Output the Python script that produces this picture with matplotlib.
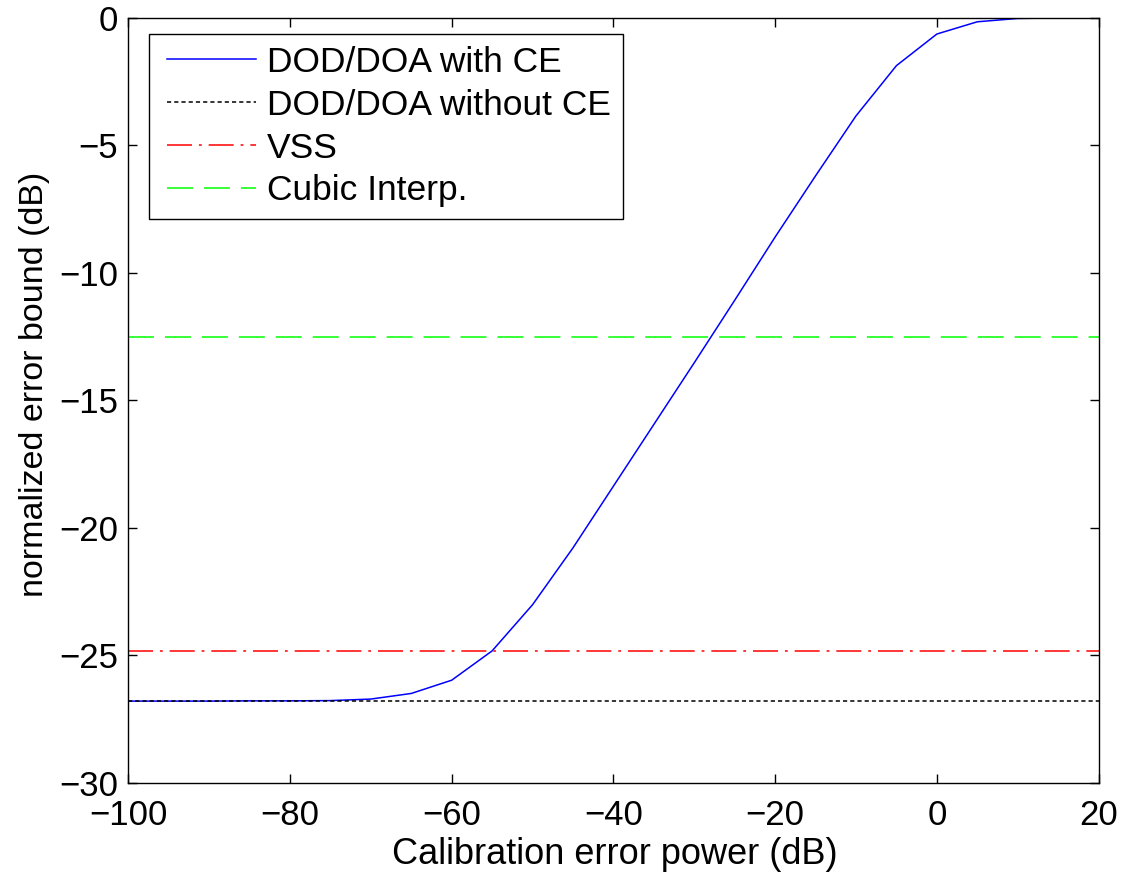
import matplotlib
matplotlib.use("Agg")
import matplotlib.pyplot as plt
from matplotlib.legend_handler import HandlerLine2D

# Calibration error power (dB) and the resulting normalized error bound (dB)
cal_error_db = [-100, -95, -90, -85, -80, -75, -70, -65, -60, -55, -50, -45, -40,
                -35, -30, -25, -20, -15, -10, -5, 0, 5, 10, 15, 20]
bound_with_ce = [-26.80, -26.80, -26.80, -26.79, -26.79, -26.78, -26.72, -26.50,
                 -25.98, -24.83, -23.02, -20.79, -18.37, -15.95, -13.53, -11.08,
                 -8.60, -6.20, -3.85, -1.88, -0.64, -0.16, -0.03, -0.01, 0.0]
bound_without_ce = -26.80
bound_vss = -24.83
bound_cubic = -12.52

series_labels = ["DOD/DOA with CE", "DOD/DOA without CE", "VSS", "Cubic Interp."]
x_ticks = [-100, -80, -60, -40, -20, 0, 20]
y_ticks = [-30, -25, -20, -15, -10, -5, 0]

plt.rcParams["font.family"] = ["Liberation Sans", "DejaVu Sans"]
plt.rcParams["lines.scale_dashes"] = False

fig = plt.figure(figsize=(11.24, 8.76), dpi=100)
ax = fig.add_axes([0.1141, 0.1065, 0.8633, 0.8733])

x_lim = (-100, 20)
lines = [
    ax.plot(cal_error_db, bound_with_ce, color="#0000ff", lw=1.1,
            label=series_labels[0])[0],
    ax.plot(x_lim, [bound_without_ce] * 2, color="black", lw=1.1,
            dashes=(3, 2.2), label=series_labels[1])[0],
    ax.plot(x_lim, [bound_vss] * 2, color="#ff0000", lw=1.1,
            dashes=(18, 5, 2, 5), label=series_labels[2])[0],
    ax.plot(x_lim, [bound_cubic] * 2, color="#00ff00", lw=1.1,
            dashes=(18.7, 7.9), label=series_labels[3])[0],
]

ax.set_xlim(*x_lim)
ax.set_ylim(-30, 0)
ax.set_xticks(x_ticks)
ax.set_yticks(y_ticks)
ax.tick_params(direction="in", length=6.7, width=1.0, labelsize=25,
               top=True, right=True)
ax.tick_params(axis="x", pad=11.4)
ax.tick_params(axis="y", pad=7.3)
for s in ax.spines.values():
    s.set_linewidth(1.0)

ax.set_xlabel("Calibration error power (dB)", fontsize=26)
ax.set_ylabel("normalized error bound (dB)", fontsize=24.5)
ax.xaxis.set_label_coords(0.5016, -0.0710)
ax.yaxis.set_label_coords(-0.0807, 0.521)

leg = ax.legend(handles=lines, loc="upper left", bbox_to_anchor=(0.0213, 0.9787),
                fontsize=25.5, frameon=True, fancybox=False, edgecolor="black",
                framealpha=1, handlelength=2.69, handletextpad=0.31,
                borderpad=0.33, labelspacing=0.28, borderaxespad=0,
                handler_map={ln: HandlerLine2D(xpad=0.18) for ln in lines})
leg.get_frame().set_linewidth(1.0)

fig.savefig("out.png", dpi=100)
